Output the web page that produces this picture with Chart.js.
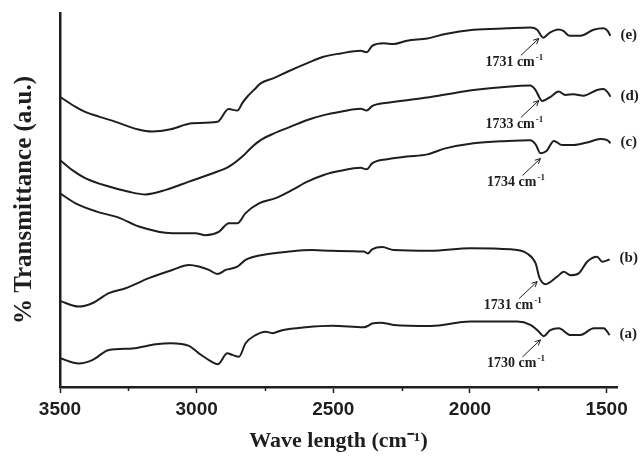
<!DOCTYPE html>
<html>
<head>
<meta charset="utf-8">
<script src="https://cdn.jsdelivr.net/npm/chart.js@4/dist/chart.umd.min.js"></script>
<style>
    html, body { margin: 0; padding: 0; background: #fff; }
</style>
</head>
<body>
<canvas id="ftir-chart" width="640" height="459"></canvas>
<script>
// FTIR spectra, wavenumber (cm-1) vs transmittance (a.u.), curves already offset
const waveA = [3500, 3431, 3382, 3321, 3235, 3150, 3095, 3028, 2992, 2955, 2922, 2888, 2870, 2845, 2821, 2784, 2748, 2723, 2687, 2601, 2503, 2388, 2374, 2358, 2327, 2279, 2144, 1998, 1827, 1779, 1748, 1730, 1706, 1675, 1632, 1596, 1547, 1511, 1489];
const valA = [7.7, 6.3, 7.2, 9.9, 10.3, 11.4, 11.7, 11.0, 9.0, 7.2, 6.1, 9.0, 8.6, 8.1, 11.7, 13.9, 14.8, 14.4, 15.2, 16.0, 16.4, 16.0, 16.3, 17.0, 17.2, 16.6, 16.3, 17.5, 17.5, 16.6, 14.8, 13.6, 15.2, 15.7, 13.9, 13.9, 15.7, 15.7, 13.9];

const waveB = [3500, 3431, 3382, 3321, 3260, 3175, 3089, 3028, 2992, 2955, 2924, 2894, 2851, 2821, 2760, 2662, 2577, 2504, 2388, 2374, 2358, 2321, 2279, 2144, 1998, 1852, 1791, 1760, 1745, 1724, 1681, 1657, 1632, 1602, 1571, 1535, 1516, 1489];
const valB = [23.0, 21.5, 22.4, 25.1, 26.4, 29.1, 31.3, 32.6, 32.2, 31.3, 30.2, 31.3, 32.2, 34.0, 35.3, 36.2, 36.6, 36.4, 36.2, 35.7, 36.8, 37.4, 36.6, 36.4, 37.1, 36.8, 35.7, 33.1, 29.1, 27.5, 29.5, 30.8, 29.9, 30.4, 33.5, 34.8, 33.5, 34.1];

const waveC = [3500, 3443, 3366, 3285, 3211, 3089, 3004, 2967, 2919, 2882, 2851, 2821, 2772, 2711, 2650, 2595, 2535, 2473, 2400, 2378, 2358, 2303, 2230, 2156, 2090, 1987, 1864, 1779, 1760, 1742, 1720, 1693, 1663, 1620, 1571, 1523, 1498, 1486];
const valC = [51.8, 49.1, 46.9, 45.3, 42.9, 41.1, 41.1, 40.6, 41.5, 43.8, 43.8, 46.5, 49.1, 50.5, 52.7, 54.9, 56.7, 57.8, 58.6, 58.2, 59.8, 60.9, 61.6, 62.2, 63.8, 65.2, 65.8, 66.0, 64.9, 62.5, 63.1, 65.8, 64.7, 64.7, 65.4, 66.3, 66.0, 65.2];

const waveD = [3500, 3455, 3406, 3321, 3248, 3187, 3113, 3028, 2943, 2882, 2833, 2803, 2766, 2717, 2656, 2595, 2535, 2473, 2400, 2378, 2358, 2303, 2230, 2156, 2090, 1987, 1864, 1779, 1760, 1736, 1705, 1676, 1651, 1621, 1585, 1535, 1512, 1493, 1486];
const valD = [60.7, 58.0, 55.8, 53.6, 52.2, 51.5, 52.7, 54.9, 57.1, 58.9, 61.6, 63.8, 66.0, 67.8, 69.6, 71.4, 72.7, 73.6, 74.4, 73.9, 75.1, 76.0, 76.7, 77.4, 78.2, 79.4, 80.3, 80.6, 79.4, 76.5, 77.6, 79.0, 78.1, 78.3, 77.9, 79.4, 79.7, 78.5, 77.6];

const waveE = [3500, 3443, 3406, 3358, 3296, 3217, 3162, 3095, 3016, 2924, 2883, 2851, 2833, 2815, 2784, 2766, 2718, 2668, 2595, 2536, 2473, 2400, 2378, 2358, 2315, 2280, 2230, 2156, 2090, 1987, 1864, 1779, 1754, 1732, 1709, 1676, 1658, 1636, 1596, 1548, 1512, 1497, 1486];
const valE = [77.6, 74.9, 73.5, 72.3, 70.9, 68.9, 68.3, 68.9, 70.5, 70.9, 74.3, 73.9, 75.9, 77.6, 79.9, 81.2, 82.6, 84.3, 86.6, 88.3, 89.2, 89.9, 89.5, 91.2, 91.9, 91.7, 92.6, 93.2, 94.4, 95.5, 95.9, 96.1, 95.5, 93.4, 94.7, 95.6, 95.2, 93.9, 93.9, 95.5, 95.9, 95.3, 93.9];

const seriesNames = ['(a)', '(b)', '(c)', '(d)', '(e)'];
const xMajorTicks = [3500, 3000, 2500, 2000, 1500];
const xMinorTicks = [3250, 2750, 2250, 1750];

// carbonyl peak labels and where their arrows point
const peakLabels = ['1730', '1731', '1734', '1733', '1731'];
const peakWave = [1742, 1754, 1742, 1748, 1748];
const peakVal = [12.6, 28.2, 61.1, 76.6, 93.2];

const ink = '#1e1e1e';

function toPoints(w, v) {
    return w.map((x, i) => ({ x: x, y: v[i] }));
}

let series = [[waveA, valA], [waveB, valB], [waveC, valC], [waveD, valD], [waveE, valE]];

let datasets = series.map((s, i) => ({
    label: seriesNames[i],
    data: toPoints(s[0], s[1]),
    borderColor: ink,
    borderWidth: 2,
    pointRadius: 0,
    cubicInterpolationMode: 'monotone',
    fill: false
}));

// arrows, peak numbers, curve names and minor ticks
let annotate = {
    id: 'annotate',
    afterDraw(chart) {
        const ctx = chart.ctx;
        const xs = chart.scales.x;
        const ys = chart.scales.y;
        ctx.save();
        ctx.strokeStyle = ink;
        ctx.fillStyle = ink;

        ctx.lineWidth = 1.5;
        xMinorTicks.forEach(t => {
            let px = Math.round(xs.getPixelForValue(t)) + 0.5;
            ctx.beginPath();
            ctx.moveTo(px, ys.bottom);
            ctx.lineTo(px, ys.bottom + 4);
            ctx.stroke();
        });

        ctx.font = 'bold 15px "Liberation Serif"';
        ctx.textBaseline = 'middle';
        ctx.textAlign = 'left';
        chart.data.datasets.forEach((ds, i) => {
            let meta = chart.getDatasetMeta(i);
            let p = meta.data[meta.data.length - 1];
            ctx.fillText(ds.label, p.x + 10, p.y - 1);
        });

        peakLabels.forEach((txt, i) => {
            let tx = xs.getPixelForValue(peakWave[i]);
            let ty = ys.getPixelForValue(peakVal[i]);
            let sx = tx - 18, sy = ty + 17;
            ctx.lineWidth = 1;
            ctx.beginPath();
            ctx.moveTo(sx, sy);
            ctx.lineTo(tx, ty);
            let ang = Math.atan2(ty - sy, tx - sx);
            ctx.moveTo(tx - 6 * Math.cos(ang - 0.45), ty - 6 * Math.sin(ang - 0.45));
            ctx.lineTo(tx, ty);
            ctx.lineTo(tx - 6 * Math.cos(ang + 0.45), ty - 6 * Math.sin(ang + 0.45));
            ctx.stroke();

            let main = txt + ' cm';
            ctx.font = 'bold 14px "Liberation Serif"';
            let w1 = ctx.measureText(main).width;
            ctx.font = 'bold 9px "Liberation Serif"';
            let w2 = ctx.measureText('-1').width;
            let left = tx - 25 - (w1 + w2) / 2;
            let cy = ty + 24;
            ctx.font = 'bold 14px "Liberation Serif"';
            ctx.fillText(main, left, cy);
            ctx.font = 'bold 9px "Liberation Serif"';
            ctx.fillText('-1', left + w1 + 1, cy - 5);
        });
        ctx.restore();
    }
};

let ctx = document.getElementById('ftir-chart').getContext('2d');

let ftirChart = new Chart(ctx, {
    type: 'line',
    data: { datasets: datasets },
    options: {
        responsive: false,
        animation: false,
        devicePixelRatio: 1,
        layout: { padding: { top: 13, right: 23, left: 0, bottom: 0 } },
        plugins: {
            legend: { display: false },
            tooltip: { enabled: false }
        },
        scales: {
            x: {
                type: 'linear',
                reverse: true,
                min: 1462,
                max: 3500,
                afterBuildTicks: (scale) => {
                    scale.ticks = xMajorTicks.map(v => ({ value: v }));
                },
                afterFit: (scale) => { scale.height = 72; },
                ticks: {
                    color: ink,
                    padding: 5,
                    maxRotation: 0,
                    callback: (value) => String(value),
                    font: { family: '"Liberation Sans", Arial, sans-serif', size: 19, weight: 'bold' }
                },
                grid: {
                    display: true,
                    drawOnChartArea: false,
                    tickLength: 6,
                    tickWidth: 1.5,
                    tickColor: ink
                },
                border: { display: true, color: ink, width: 2.5 },
                title: {
                    display: true,
                    text: 'Wave length (cm⁻¹)',
                    color: ink,
                    padding: { top: 0, bottom: 4 },
                    font: { family: '"Liberation Serif", "Times New Roman", serif', size: 22, weight: 'bold' }
                }
            },
            y: {
                min: 0,
                max: 100,
                afterFit: (scale) => { scale.width = 60; },
                ticks: { display: false },
                grid: { display: false },
                border: { display: true, color: ink, width: 2.5 },
                title: {
                    display: true,
                    text: '% Transmittance (a.u.)',
                    color: ink,
                    padding: { top: 10, bottom: 0 },
                    font: { family: '"Liberation Serif", "Times New Roman", serif', size: 25, weight: 'bold' }
                }
            }
        }
    },
    plugins: [annotate]
});
</script>
</body>
</html>
